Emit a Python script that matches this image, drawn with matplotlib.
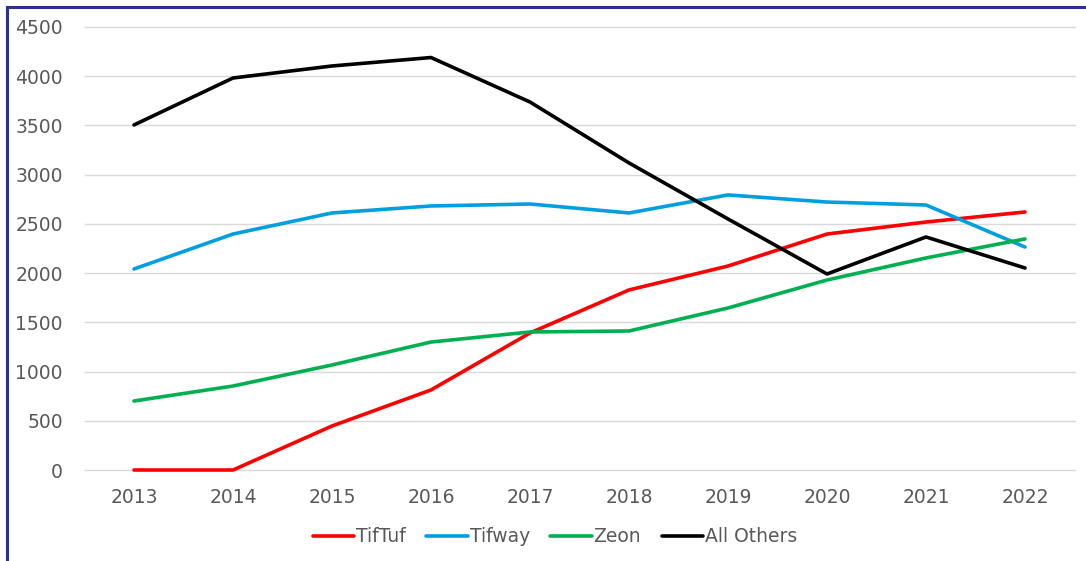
import matplotlib
matplotlib.use("Agg")
import matplotlib.pyplot as plt
from matplotlib.lines import Line2D

years = [2013, 2014, 2015, 2016, 2017, 2018, 2019, 2020, 2021, 2022]
tiftuf = [0, 0, 447, 813, 1392, 1829, 2072, 2397, 2519, 2621]
tifway = [2042, 2397, 2611, 2682, 2702, 2611, 2794, 2722, 2692, 2265]
zeon = [701, 853, 1067, 1300, 1402, 1412, 1646, 1930, 2154, 2347]
all_others = [3505, 3982, 4104, 4190, 3738, 3119, 2550, 1991, 2367, 2052]
series_names = ["TifTuf", "Tifway", "Zeon", "All Others"]
yticks = [0, 500, 1000, 1500, 2000, 2500, 3000, 3500, 4000, 4500]

colors = ["#FF0000", "#00A0E0", "#00B050", "#000000"]

plt.rcParams['font.family'] = ['DejaVu Sans']
fig = plt.figure(figsize=(10.86, 5.61), dpi=100)
ax = fig.add_axes([85/1086, 1-470/561, 990/1086, 443/561])

for vals, name, c in zip([tiftuf, tifway, zeon, all_others], series_names, colors):
    ax.plot(years, vals, color=c, lw=2.6, label=name, solid_capstyle='round',
            clip_on=False, zorder=3)

ax.set_xlim(2012.505, 2022.505)
ax.set_ylim(0, 4500)
ax.set_yticks(yticks)
ax.set_xticks(years)
ax.set_xticklabels([str(y) for y in years])
ax.grid(axis='y', color='#D9D9D9', lw=1.0)
for gl in ax.get_ygridlines():
    gl.set_clip_on(False)
ax.set_axisbelow(True)
for s in ax.spines.values():
    s.set_visible(False)
ax.tick_params(axis='both', length=0, labelsize=13.5, colors='#595959')
ax.tick_params(axis='x', pad=13)
ax.tick_params(axis='y', pad=16)

leg = ax.legend(loc='center', bbox_to_anchor=((555-85)/990, (470-537)/443), ncol=4,
                frameon=False, fontsize=13.5, handlelength=2.2, handletextpad=0.1,
                columnspacing=1.1)
for t in leg.get_texts():
    t.set_color('#595959')

# border lines (left and top)
fig.add_artist(Line2D([6.5/1086, 6.5/1086], [0, 1-6.5/561], color='#2E3192', lw=2.2, transform=fig.transFigure))
fig.add_artist(Line2D([6.5/1086, 1], [1-6.5/561, 1-6.5/561], color='#2E3192', lw=2.2, transform=fig.transFigure))

fig.savefig("out.png", dpi=100)
